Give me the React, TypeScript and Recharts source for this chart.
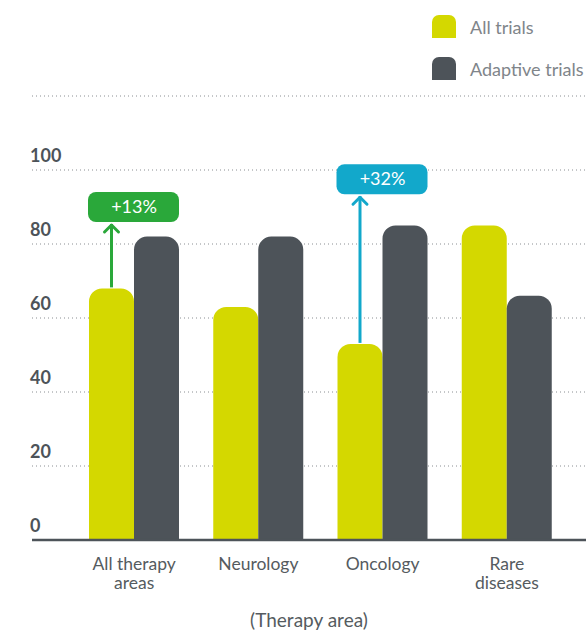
import React from 'react';
import {
  BarChart,
  Bar,
  XAxis,
  YAxis,
  CartesianGrid,
  LabelList,
} from 'recharts';

const categories = ['All therapy\nareas', 'Neurology', 'Oncology', 'Rare\ndiseases'];
const allTrials = [68, 63, 53, 85];
const adaptiveTrials = [82, 82, 85, 66];
const callouts = ['+13%', null, '+32%', null];
const calloutLevels = [90, null, 97.5, null];
const yTicks = [0, 20, 40, 60, 80, 100, 120];
const seriesNames = ['All trials', 'Adaptive trials'];

const YELLOW = '#d4d800';
const GREY = '#4d5359';
const calloutColors = ['#2aa83a', null, '#12a8cb', null];

const data = categories.map((c, i) => ({
  name: c,
  all: allTrials[i],
  adaptive: adaptiveTrials[i],
}));

const FONT = 'Lato, "Open Sans", sans-serif';

const YTick = (props: any) => {
  const { x, y, payload } = props;
  if (payload.value === 120) return null;
  return (
    <text
      x={x - 2}
      y={y - 8}
      textAnchor="start"
      fontFamily={FONT}
      fontWeight={700}
      fontSize={18}
      fill={GREY}
    >
      {payload.value}
    </text>
  );
};

const XTick = (props: any) => {
  const { x, y, payload } = props;
  const lines = String(payload.value).split('\n');
  return (
    <text
      x={x}
      y={y + 30}
      textAnchor="middle"
      fontFamily={FONT}
      fontSize={17.5}
      fill="#555b60"
    >
      {lines.map((l, i) => (
        <tspan key={i} x={x} dy={i === 0 ? 0 : 19}>
          {l}
        </tspan>
      ))}
    </text>
  );
};

// arrow + coloured box above the "All trials" bar
const Callout = (props: any) => {
  const { x, y, width, height, index, value } = props;
  const label = callouts[index];
  const level = calloutLevels[index];
  if (!label || level == null) return null;
  const perUnit = height / value;
  const base = y + height;
  const cy = base - level * perUnit;
  const boxH = 30;
  const boxW = width * 2;
  const cx = x + width / 2;
  const tip = cy + boxH / 2 + 2;
  const color = calloutColors[index] as string;
  return (
    <g>
      <line x1={cx} y1={y - 1} x2={cx} y2={tip} stroke={color} strokeWidth={3} />
      <polyline
        points={`${cx - 7},${tip + 8} ${cx},${tip + 1} ${cx + 7},${tip + 8}`}
        fill="none"
        stroke={color}
        strokeWidth={3}
        strokeLinecap="round"
        strokeLinejoin="round"
      />
      <rect x={x - 1} y={cy - boxH / 2} width={boxW + 1} height={boxH} rx={8} fill={color} />
      <text
        x={x + boxW / 2}
        y={cy + 6}
        textAnchor="middle"
        fontFamily={FONT}
        fontSize={18}
        fill="#fff"
      >
        {label}
      </text>
    </g>
  );
};

const LegendMarker = ({ color }: { color: string }) => (
  <div
    style={{
      width: 24,
      height: 23,
      background: color,
      borderRadius: '7px 7px 0 0',
      marginRight: 14,
    }}
  />
);

export default function App() {
  const colors = [YELLOW, GREY];
  return (
    <div style={{ position: 'relative', width: 578, height: 622, padding: '8px 0 0 8px' }}>
      <style>{'html, body { margin: 0; overflow: hidden; }'}</style>
      <div
        style={{
          position: 'absolute',
          left: 432,
          top: 15,
          fontFamily: FONT,
          fontSize: 18,
          color: '#80858a',
          whiteSpace: 'nowrap',
        }}
      >
        {seriesNames.map((n, i) => (
          <div
            key={n}
            style={{ display: 'flex', alignItems: 'center', height: 23, marginBottom: 19 }}
          >
            <LegendMarker color={colors[i]} />
            <span>{n}</span>
          </div>
        ))}
      </div>
      <BarChart
        width={578}
        height={622}
        data={data}
        margin={{ top: 88, right: 0, left: 0, bottom: 0 }}
        barCategoryGap={17}
        barGap={0}
      >
        <CartesianGrid
          vertical={false}
          stroke="#8a8e92"
          strokeDasharray="1 3"
        />
        <YAxis
          domain={[0, 120]}
          ticks={yTicks}
          width={24}
          axisLine={false}
          tickLine={false}
          tickSize={0}
          tickMargin={0}
          tick={<YTick />}
          interval={0}
        />
        <XAxis
          dataKey="name"
          height={90}
          padding={{ left: 40, right: 17 }}
          axisLine={{ stroke: GREY, strokeWidth: 2.5 }}
          tickLine={false}
          tickSize={0}
          tickMargin={0}
          tick={<XTick />}
          interval={0}
          label={{
            value: '(Therapy area)',
            position: 'insideBottom',
            offset: 3,
            fontFamily: FONT,
            fontSize: 19,
            fill: '#555b60',
          }}
        />
        <Bar
          dataKey="all"
          name={seriesNames[0]}
          fill={YELLOW}
          radius={[13, 13, 0, 0]}
          isAnimationActive={false}
        >
          <LabelList dataKey="all" content={<Callout />} />
        </Bar>
        <Bar
          dataKey="adaptive"
          name={seriesNames[1]}
          fill={GREY}
          radius={[13, 13, 0, 0]}
          isAnimationActive={false}
        />
      </BarChart>
    </div>
  );
}
